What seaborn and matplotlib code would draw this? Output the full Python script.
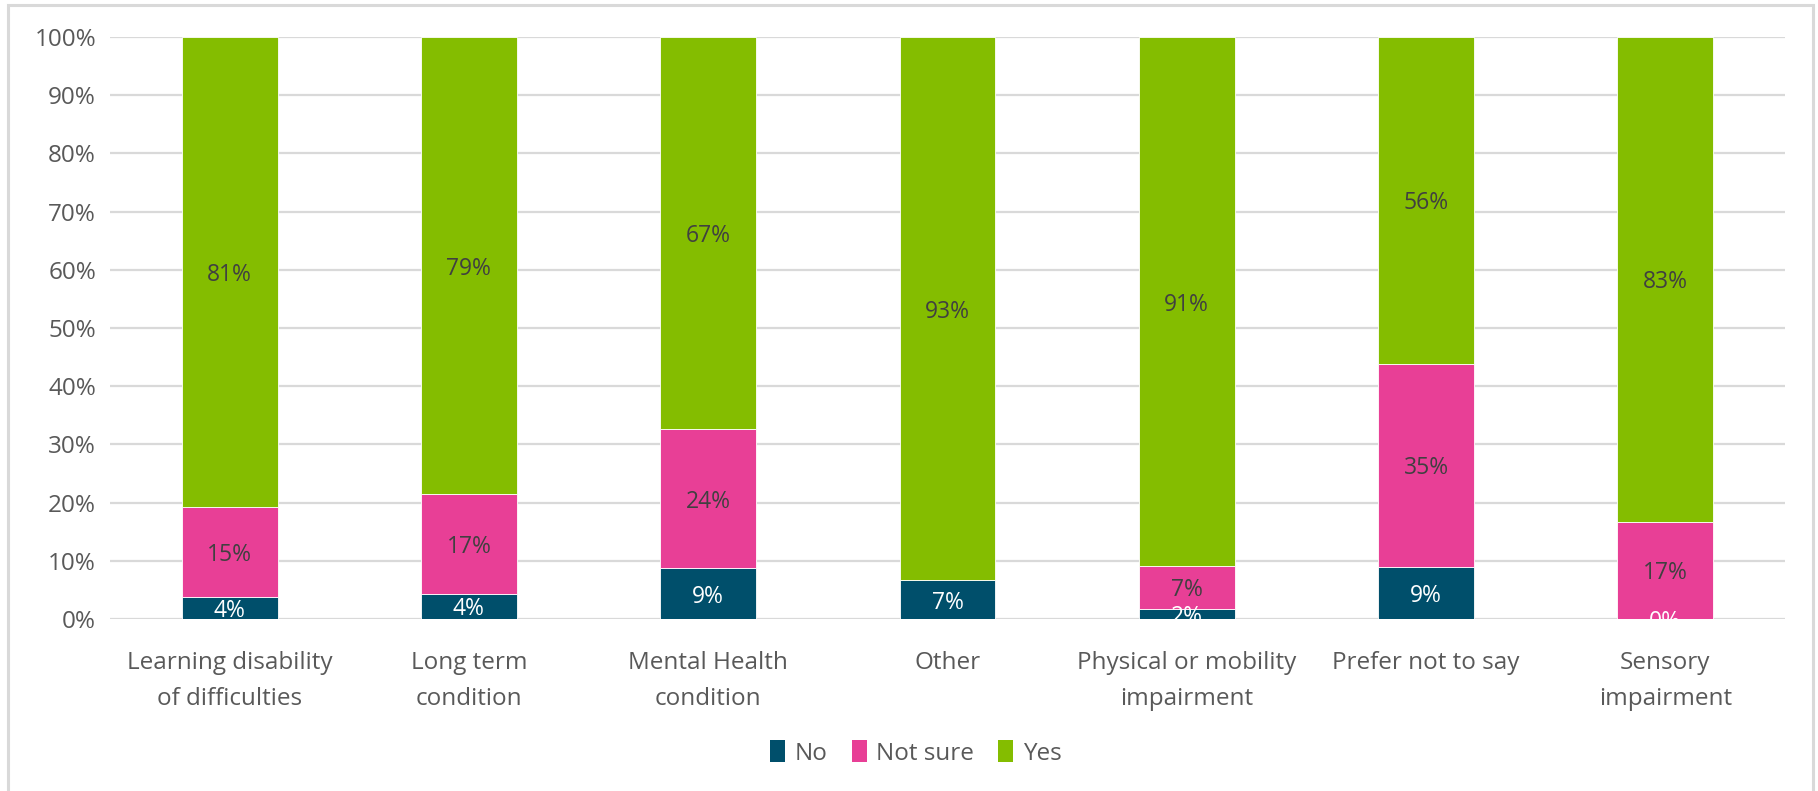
import numpy as np
import pandas as pd
import matplotlib
matplotlib.use("Agg")
import matplotlib.pyplot as plt
import seaborn as sns
from matplotlib.patches import Rectangle, Patch

categories = ["Learning disability\nof difficulties", "Long term\ncondition", "Mental Health\ncondition",
              "Other", "Physical or mobility\nimpairment", "Prefer not to say", "Sensory\nimpairment"]
no_vals = [3.8, 4.3, 8.7, 6.7, 1.8, 8.9, 0.0]
notsure_vals = [15.4, 17.1, 24.0, None, 7.3, 35.0, 16.7]
yes_vals = [80.8, 78.6, 67.3, 93.3, 90.9, 56.1, 83.3]

series_names = ["No", "Not sure", "Yes"]
colors = {"No": "#004F6B", "Not sure": "#E83F96", "Yes": "#84BD00"}
label_colors = {"No": "white", "Not sure": "#404040", "Yes": "#404040"}

sns.set_theme(style="white")
plt.rcParams["font.family"] = ["Open Sans", "DejaVu Sans"]

fig = plt.figure(figsize=(18.18, 7.91), dpi=100)
ax = fig.add_axes([110/1818, 1 - 619/791, (1785 - 110)/1818, (619 - 37)/791])

series = {"No": no_vals, "Not sure": notsure_vals, "Yes": yes_vals}
bottom = np.zeros(len(categories))
for name in series_names:
    raw = series[name]
    vals = np.array([np.nan if v is None else v for v in raw], dtype=float) / 100.0
    h = np.nan_to_num(vals)
    df = pd.DataFrame({"cat": categories, "val": h})
    sns.barplot(data=df, x="cat", y="val", bottom=bottom, color=colors[name], width=0.4,
                edgecolor="white", linewidth=0.6, saturation=1, ax=ax, errorbar=None)
    for i, v in enumerate(vals):
        if np.isnan(v):
            continue
        ax.text(i, bottom[i] + h[i] / 2, f"{v*100:.0f}%", ha="center", va="center_baseline",
                fontsize=16.5, color=label_colors[name], clip_on=True, zorder=5)
    bottom = bottom + h

ax.set_ylim(0, 1)
ax.set_xlim(-0.5, len(categories) - 0.5)
ax.set_yticks(np.arange(0, 1.01, 0.1))
ax.set_yticklabels([f"{int(round(t*100))}%" for t in np.arange(0, 1.01, 0.1)])
ax.yaxis.grid(True, color="#D9D9D9", linewidth=1.6)
ax.set_axisbelow(True)
for s in ax.spines.values():
    s.set_visible(False)
ax.set_xlabel("")
ax.set_ylabel("")
ax.tick_params(axis="both", length=0, labelsize=17.5, labelcolor="#595959")
ax.tick_params(axis="x", pad=23)
ax.tick_params(axis="y", pad=10)
for lab in ax.get_xticklabels():
    lab.set_linespacing(1.65)

handles = [Patch(facecolor=colors[n], edgecolor="none") for n in series_names]
fig.legend(handles, series_names, loc="center", bbox_to_anchor=(916/1818, 1 - 753/791), ncol=3,
           frameon=False, fontsize=17.5, handlelength=0.6, handleheight=1.0, handletextpad=0.4,
           columnspacing=1.0, labelcolor="#595959")

fig.patches.append(Rectangle((8/1818, -0.05), (1813 - 8)/1818, 1.05 - 5/791, transform=fig.transFigure,
                             fill=False, edgecolor="#D9D9D9", linewidth=2.2))

fig.savefig("out.png", dpi=100)
